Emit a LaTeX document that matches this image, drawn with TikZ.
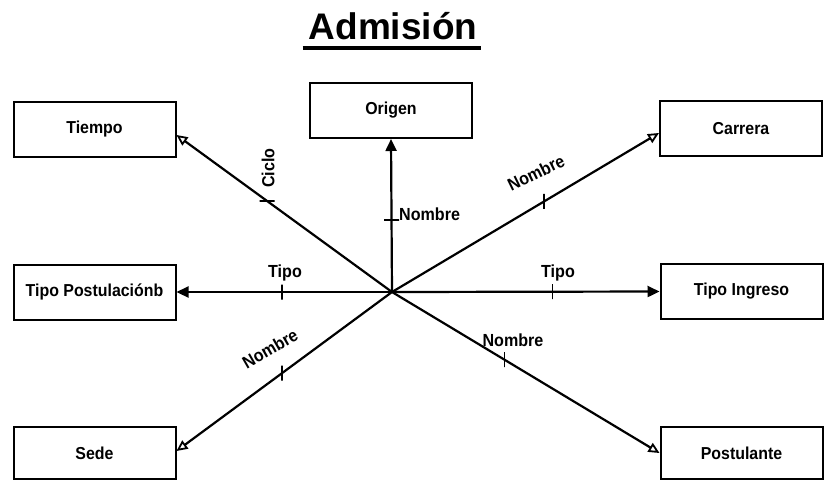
\documentclass[tikz,border=0pt]{standalone}
\usepackage{fontspec}
\setmainfont{Liberation Sans}
\newfontfamily\lblfont{Liberation Sans}[BoldFont={Liberation Sans Bold}, FakeStretch=0.92]
\usetikzlibrary{arrows.meta}
\begin{document}
\begin{tikzpicture}[x=1pt,y=-1pt,
  entity/.style={draw, line width=2pt, minimum width=162pt, minimum height=55pt,
    inner sep=0pt, font=\lblfont\bfseries\fontsize{17.3}{20}\selectfont},
  conn/.style={line width=2.2pt},
  filledtip/.style={-{Triangle[length=12pt,width=11pt]}},
  opentip/.style={-{Triangle[open,length=11pt,width=10pt,fill=white,line width=1.8pt]}},
  tickv/.style={draw, line width=1.5pt, minimum width=0pt, minimum height=15pt, inner sep=0pt, outer sep=0pt},
  tickh/.style={draw, line width=1.5pt, minimum width=15pt, minimum height=0pt, inner sep=0pt, outer sep=0pt},
  attr/.style={font=\lblfont\bfseries\fontsize{17.5}{20}\selectfont, inner sep=0pt}]
  \useasboundingbox[fill=white] (0,0) rectangle (824,480);

  % title
  \node[anchor=base, font=\bfseries\fontsize{37}{40}\selectfont, inner sep=0pt] (title) at (393,39) {Admisión};
  \draw[line width=3.2pt] ([yshift=-9pt,xshift=-6pt]title.base west) coordinate (ul1)
    -- ([yshift=-9pt,xshift=4pt]title.base east) coordinate (ul2);

  % dimension tables
  \node[entity] (tiempo)   at (94.5,129)   {Tiempo};
  \node[entity] (origen)   at (391,110.5)  {Origen};
  \node[entity] (carrera)  at (741,128.5)  {Carrera};
  \node[entity] (tpost)    at (94.5,292)   {Tipo Postulaciónb};
  \node[entity] (tingreso) at (741.5,291.5){Tipo Ingreso};
  \node[entity, minimum height=52pt] (sede)       at (94.5,453)  {Sede};
  \node[entity, minimum height=52pt] (postulante) at (741.5,453) {Postulante};

  % fact hub
  \coordinate (c) at (392,292);

  % connectors with attribute ticks
  \draw[conn, opentip] (c) -- node[pos=0.58, tickh] (t1) {} ([yshift=-6pt]tiempo.east);
  \draw[conn, filledtip] (c) -- node[pos=0.47, tickh] (t2) {} (origen.south);
  \draw[conn, opentip] (c) -- node[pos=0.57, tickv] (t3) {} ([yshift=-4.5pt]carrera.west);
  \draw[conn, filledtip] (c) -- node[pos=0.51, tickv] (t4) {} (tpost.east);
  \draw[conn, filledtip] (c) -- node[pos=0.60, tickv] (t5) {} (tingreso.west);
  \draw[conn, opentip] (c) -- node[pos=0.51, tickv] (t6) {} ([yshift=2pt]sede.east);
  \draw[conn, opentip] (c) -- node[pos=0.42, tickv] (t7) {} (postulante.west);

  % attribute labels
  \node[attr, rotate=90] (l1) at (268,168) {Ciclo};
  \node[attr, anchor=base west] (l2) at (399,220) {Nombre};
  \node[attr, rotate=26] (l3) at (536,173) {Nombre};
  \node[attr, anchor=base] (l4) at (285,277) {Tipo};
  \node[attr, anchor=base] (l5) at (558,277) {Tipo};
  \node[attr, rotate=30] (l6) at (270,349) {Nombre};
  \node[attr, anchor=base] (l7) at (513,346) {Nombre};
\end{tikzpicture}
\end{document}
